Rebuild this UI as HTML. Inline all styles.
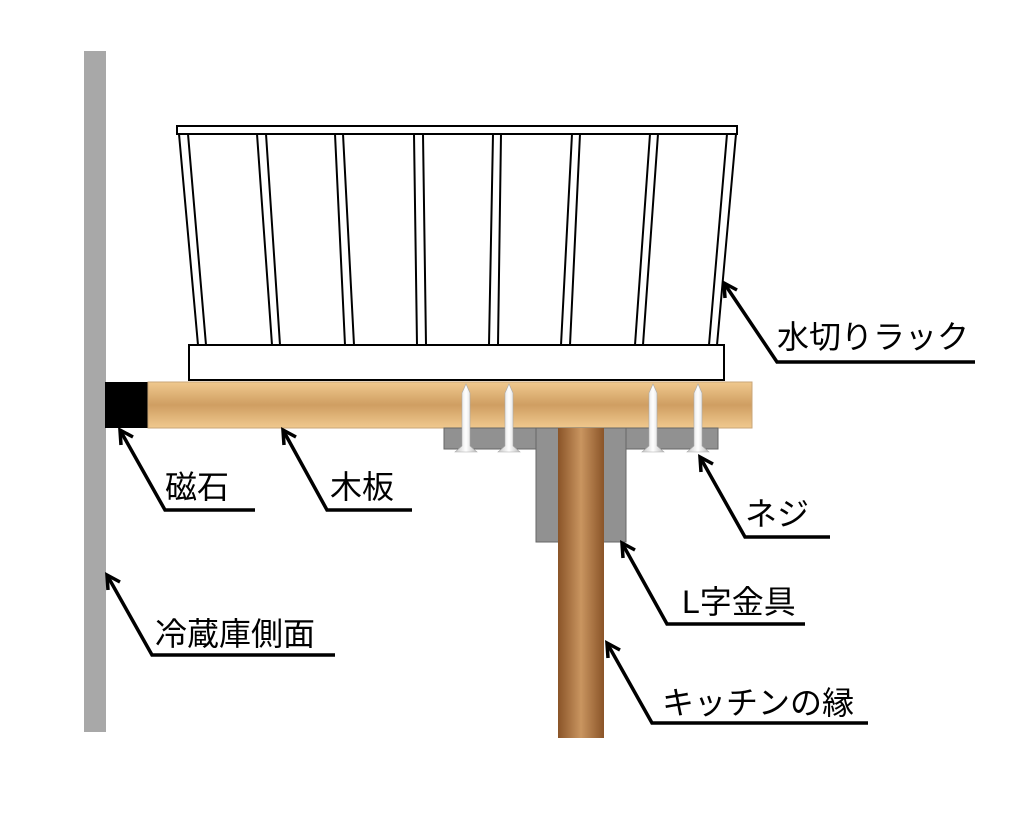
<!DOCTYPE html>
<html><head><meta charset="utf-8"><style>
html,body{margin:0;padding:0;background:#fff;}
svg{display:block;}
text{font-family:"Liberation Sans","Noto Sans CJK JP",sans-serif;font-size:32px;fill:#000;}
</style></head><body>
<svg width="1024" height="815" viewBox="0 0 1024 815" xmlns="http://www.w3.org/2000/svg">
<defs>
<linearGradient id="wood" x1="0" y1="0" x2="0" y2="1">
<stop offset="0" stop-color="#f0c98e"/><stop offset="0.5" stop-color="#cf9e62"/><stop offset="1" stop-color="#f0c98e"/>
</linearGradient>
<linearGradient id="post" x1="0" y1="0" x2="1" y2="0">
<stop offset="0" stop-color="#8a5428"/><stop offset="0.5" stop-color="#c99560"/><stop offset="1" stop-color="#8a5428"/>
</linearGradient>
<linearGradient id="screw" x1="0" y1="0" x2="1" y2="0">
<stop offset="0" stop-color="#c8c8c8"/><stop offset="0.5" stop-color="#ffffff"/><stop offset="1" stop-color="#bdbdbd"/>
</linearGradient>
</defs>
<rect x="84" y="51" width="22" height="681" fill="#a8a8a8"/>
<rect x="105" y="382" width="43" height="46" fill="#000"/>
<rect x="148" y="382" width="604" height="46" fill="url(#wood)" stroke="#c9a678" stroke-width="1"/>
<rect x="444" y="428" width="274" height="21" fill="#919191" stroke="#666" stroke-width="1"/>
<rect x="536" y="428" width="90" height="114" fill="#919191" stroke="#666" stroke-width="1"/>
<rect x="558" y="428" width="46" height="310" fill="url(#post)"/>
<g fill="url(#screw)" stroke="#aaa" stroke-width="0.6">
<path d="M462,393 L466,384 L470,393 L470,446 L477,452 L455,452 L462,446 Z"/>
<path d="M505,393 L509,384 L513,393 L513,446 L520,452 L498,452 L505,446 Z"/>
<path d="M649,393 L653,384 L657,393 L657,446 L664,452 L642,452 L649,446 Z"/>
<path d="M694,393 L698,384 L702,393 L702,446 L709,452 L687,452 L694,446 Z"/>
</g>
<g fill="#fff" stroke="#000" stroke-width="2">
<polygon points="179,134 188,134 206,345 198,345"/>
<polygon points="257,134 266,134 280,345 272,345"/>
<polygon points="335,134 343,134 354,345 345,345"/>
<polygon points="414,134 423,134 426,345 417,345"/>
<polygon points="493,134 501,134 498,345 489,345"/>
<polygon points="572,134 580,134 570,345 561,345"/>
<polygon points="650,134 658,134 643,345 635,345"/>
<polygon points="727,134 736,134 717,345 709,345"/>
<rect x="177" y="126" width="560" height="8"/>
<rect x="189" y="345" width="535" height="35"/>
</g>
<g fill="none" stroke="#000" stroke-width="3.5" stroke-linejoin="miter">
<polyline points="724,283 777,362 975,362"/><polyline points="725,298 724,283 737,290"/>
<polyline points="120,430 165,510 255,510"/><polyline points="121,445 120,430 133,437"/>
<polyline points="283,430 327,510 412,510"/><polyline points="284,445 283,430 296,437"/>
<polyline points="700,457 745,537 830,537"/><polyline points="701,472 700,457 713,464"/>
<polyline points="622,543 667,624 805,624"/><polyline points="623,558 622,543 635,550"/>
<polyline points="107,575 152,655 335,655"/><polyline points="108,590 107,575 120,582"/>
<polyline points="607,643 652,723 868,723"/><polyline points="608,658 607,643 620,650"/>
</g>
<text x="777" y="348">水切りラック</text>
<text x="165" y="498">磁石</text>
<text x="330" y="498">木板</text>
<text x="745" y="525">ネジ</text>
<text x="682" y="613">L字金具</text>
<text x="155" y="645">冷蔵庫側面</text>
<text x="662" y="714">キッチンの縁</text>
</svg>
</body></html>
